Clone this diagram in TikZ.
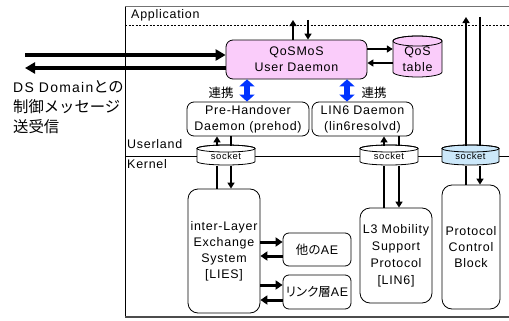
\documentclass[tikz,border=0pt]{standalone}
\usepackage{fontspec}
\setmainfont{Liberation Sans}[LetterSpace=6]
\newfontfamily\jp{Noto Sans CJK JP}
\newfontfamily\jpp{Noto Sans CJK JP}[RawFeature=+palt]
\newfontfamily\jpbig{Noto Sans CJK JP}[Scale=1.1]
\usetikzlibrary{arrows.meta}
\definecolor{qospink}{RGB}{250,204,250}
\definecolor{sockblue}{RGB}{204,232,250}
\definecolor{coopblue}{RGB}{0,51,255}

% cylinder outline: left, bottom, right, top, ellipse half-height, fill
\newcommand\cylshape[6]{%
  \path[draw, fill=#6, line width=0.8bp] (#1,#4-#5) -- (#1,#2+#5)
    arc[start angle=180, end angle=360, x radius={(#3-#1)/2}, y radius=#5]
    -- (#3,#4-#5)
    arc[start angle=0, end angle=180, x radius={(#3-#1)/2}, y radius=#5] -- cycle;
  \draw[line width=0.8bp] ({(#1+#3)/2},#4-#5) ellipse [x radius={(#3-#1)/2}, y radius=#5];
}

\begin{document}
\begin{tikzpicture}[x=1bp, y=1bp,
  font=\fontsize{12.5}{16}\selectfont,
  box/.style={draw, line width=0.8bp, rounded corners=7bp, align=center, inner sep=0pt, fill=white},
  heavy/.style={line width=2.3bp, -{Triangle[length=6bp,width=7bp]}},
  plain/.style={line width=1.3bp},
  bigarrow/.style={line width=3.6bp, -{Triangle[length=10bp,width=11bp]}},
  linkarrow/.style={line width=3bp, -{Triangle[length=7bp,width=9bp]}},
  coop/.style={line width=5.5bp, color=coopblue,
    {Triangle[length=7bp,width=15bp]}-{Triangle[length=7bp,width=15bp]}},
  lbl/.style={inner sep=0pt, anchor=west},
  sock/.style={inner sep=0pt, minimum width=58bp, minimum height=20bp,
    font=\fontsize{9.5}{10}\selectfont}]
\useasboundingbox (0,0) rectangle (509,320);

% layer frame and separators
\draw[line width=1bp, black!55] (509,313) -- (125,313);
\draw[line width=0.9bp] (125,313) -- (125,3);
\draw[line width=1.6bp, black!70] (125,3) -- (509,3);
\draw[line width=1bp, dash pattern=on 2bp off 1.5bp] (125,295) -- (509,295);
\draw[line width=0.9bp] (125,164) -- (509,164);

\node[lbl] (app) at (131,305) {Application};
\node[lbl] (ul) at (127,176) {Userland};
\node[lbl] (kn) at (127,156) {Kernel};

% user-space daemons
\node[box, fill=qospink, minimum width=141bp, minimum height=39bp] (qos) at (296.5,260.5) {QoSMoS\\User Daemon};
\cylshape{393}{243}{442}{284}{5}{qospink}
\node[inner sep=0pt, minimum width=49bp, minimum height=30bp, align=center] (tbl) at (417.5,261) {QoS\\table};

\node[box, minimum width=122bp, minimum height=34bp] (pre) at (248,201) {Pre-Handover\\Daemon (prehod)};
\node[box, minimum width=101bp, minimum height=34bp] (lin6d) at (362.5,201) {LIN6 Daemon\\(lin6resolvd)};

% sockets
\cylshape{197}{155}{255}{175}{3.5}{white}
\cylshape{360}{155}{418}{175}{3.5}{white}
\cylshape{442}{155}{499}{175}{3.5}{sockblue}
\node[sock] (s1) at (226,164) {socket};
\node[sock] (s2) at (389,164) {socket};
\node[sock] (s3) at (470.5,164) {socket};

% kernel blocks
\node[box, rounded corners=10bp, minimum width=72bp, minimum height=124bp] (lies) at (224,69) {inter-Layer\\Exchange\\System\\{}[LIES]};
\node[box, rounded corners=6bp, minimum width=68bp, minimum height=33bp] (ae1) at (317,70.5) {{\jp 他の}AE};
\node[box, rounded corners=6bp, minimum width=68bp, minimum height=34bp] (ae2) at (317,28) {{\jpp リンク層}AE};
\node[box, rounded corners=10bp, minimum width=72bp, minimum height=95bp, font=\fontsize{12.5}{17}\selectfont] (l3) at (396,64.5) {L3 Mobility\\Support\\Protocol\\{}[LIN6]};
\node[box, rounded corners=10bp, minimum width=58bp, minimum height=124bp] (pcb) at (471,73) {Protocol\\Control\\Block};

% external signalling
\coordinate (ds1) at (25,265);
\coordinate (ds2) at (25,252);
\draw[bigarrow] (ds1) -- (ds1 -| qos.west);
\draw[bigarrow] (ds2 -| qos.west) -- (ds2);
\node[lbl, align=left, font=\fontsize{14}{20}\selectfont\addfontfeature{LetterSpace=9}] (ds) at (13,213) {DS Domain{\jpbig との}\\{\jpbig 制御メッセージ}\\{\jpbig 送受信}};

% application interface
\coordinate (t1) at (293,300);
\coordinate (t2) at (308,300);
\draw[heavy] (t1 |- qos.north) -- (t1);
\draw[heavy] (t2) -- (t2 |- qos.north);

% QoS table access
\coordinate (q1) at (0,271);
\coordinate (q2) at (0,257);
\draw[heavy] (qos.east |- q1) -- (tbl.west |- q1);
\draw[heavy] (tbl.west |- q2) -- (qos.east |- q2);

% cooperation links
\coordinate (c1) at (247,0);
\coordinate (c2) at (347,0);
\draw[coop] (c1 |- qos.south) -- (c1 |- pre.north);
\draw[coop] (c2 |- qos.south) -- (c2 |- lin6d.north);
\node (co1) at (221,227) {\jp 連携};
\node (co2) at (374,227) {\jp 連携};

% socket paths
\coordinate (a1) at (217,0);
\coordinate (a2) at (231,0);
\draw[heavy] (a1 |- s1.north) -- (a1 |- pre.south);
\draw[plain] (a2 |- pre.south) -- (a2 |- s1.north);
\draw[plain] (a1 |- s1.south) -- (a1 |- lies.north);
\draw[heavy] (a2 |- s1.south) -- (a2 |- lies.north);

\coordinate (a3) at (384,0);
\coordinate (a4) at (399,0);
\draw[heavy] (a3 |- s2.north) -- (a3 |- lin6d.south);
\draw[plain] (a4 |- lin6d.south) -- (a4 |- s2.north);
\draw[plain] (a3 |- s2.south) -- (a3 |- l3.north);
\draw[heavy] (a4 |- s2.south) -- (a4 |- l3.north);

\coordinate (a5) at (466,303);
\coordinate (a6) at (480,303);
\draw[heavy] (a5 |- s3.north) -- (a5);
\draw[plain] (a6) -- (a6 |- s3.north);
\draw[plain] (a5 |- s3.south) -- (a5 |- pcb.north);
\draw[heavy] (a6 |- s3.south) -- (a6 |- pcb.north);

% address exchange with the AEs
\coordinate (h1) at (0,78);
\coordinate (h2) at (0,64);
\coordinate (h3) at (0,35);
\coordinate (h4) at (0,20);
\draw[linkarrow] (lies.east |- h1) -- (ae1.west |- h1);
\draw[linkarrow] (ae1.west |- h2) -- (lies.east |- h2);
\draw[linkarrow] (lies.east |- h3) -- (ae2.west |- h3);
\draw[linkarrow] (ae2.west |- h4) -- (lies.east |- h4);
\end{tikzpicture}
\end{document}
